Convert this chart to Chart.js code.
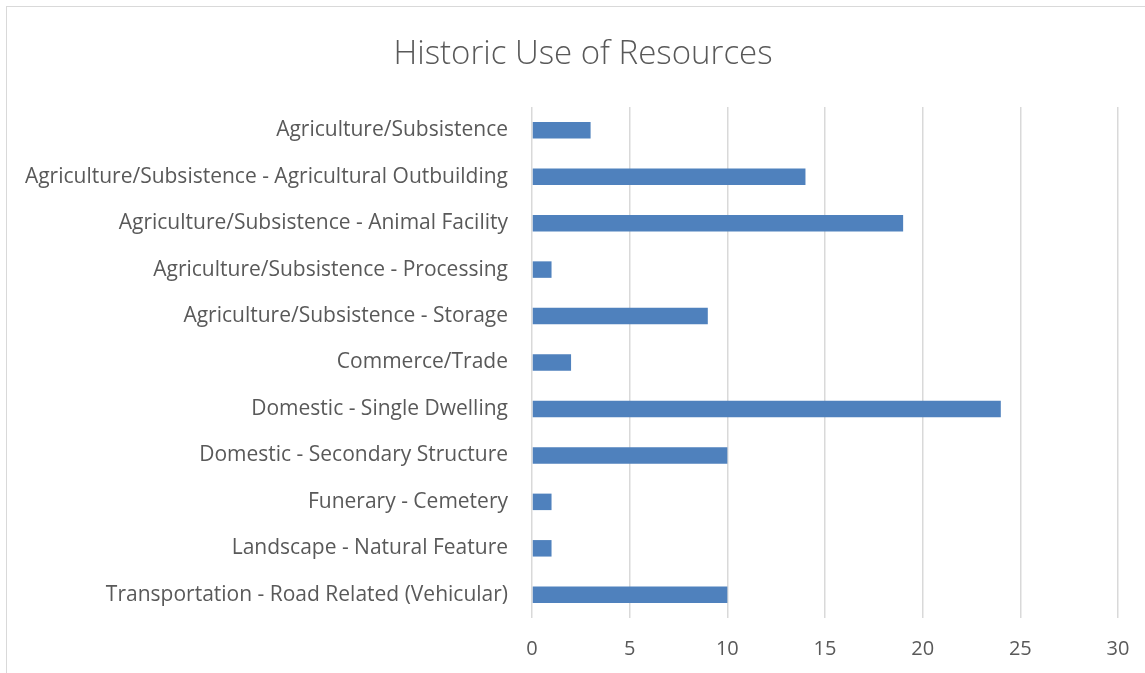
<!DOCTYPE html>
<html>
<head>
<meta charset="utf-8">
<script src="https://cdn.jsdelivr.net/npm/chart.js@4"></script>
<style>
  html, body { margin: 0; padding: 0; background: #fff; overflow: hidden; }
  #wrap { position: relative; width: 1145px; height: 673px; }
  #frame { position: absolute; left: 6px; top: 6px; width: 1160px; height: 700px;
           border: 1.5px solid #d9d9d9; box-sizing: border-box; }
  canvas { position: absolute; left: 0; top: 0; }
</style>
</head>
<body>
<div id="wrap">
  <div id="frame"></div>
  <canvas id="useChart" width="1145" height="673"></canvas>
</div>
<script>
// 类别与数值
const categories = [
  'Agriculture/Subsistence',
  'Agriculture/Subsistence - Agricultural Outbuilding',
  'Agriculture/Subsistence - Animal Facility',
  'Agriculture/Subsistence - Processing',
  'Agriculture/Subsistence - Storage',
  'Commerce/Trade',
  'Domestic - Single Dwelling',
  'Domestic - Secondary Structure',
  'Funerary - Cemetery',
  'Landscape - Natural Feature',
  'Transportation - Road Related (Vehicular)'
];
const resourceCounts = [3, 14, 19, 1, 9, 2, 24, 10, 1, 1, 10];
const tickValues = [0, 5, 10, 15, 20, 25, 30];

const textColor = '#595959';
const fontFamily = '"Open Sans", Lato, sans-serif';

const ctx = document.getElementById('useChart').getContext('2d');
new Chart(ctx, {
  type: 'bar',
  data: {
    labels: categories,
    datasets: [{
      data: resourceCounts,
      backgroundColor: '#4f81bd',
      borderWidth: 0,
      barPercentage: 0.355,
      categoryPercentage: 1
    }]
  },
  options: {
    indexAxis: 'y',
    responsive: false,
    animation: false,
    layout: { padding: { left: 48, right: 27, top: 0, bottom: 0 } },
    plugins: {
      legend: { display: false },
      tooltip: { enabled: false },
      title: {
        display: true,
        text: 'Historic Use of Resources',
        color: textColor,
        font: { family: fontFamily, size: 33, weight: '300' },
        padding: { top: 35, bottom: 32.4 }
      }
    },
    scales: {
      x: {
        min: tickValues[0],
        max: tickValues[tickValues.length - 1],
        afterBuildTicks: scale => { scale.ticks = tickValues.map(v => ({ value: v })); },
        afterFit: scale => {
          scale.height = 55;
          // 去掉刻度标签带来的额外左右留白
          scale.paddingLeft = 0;
          scale.paddingRight = 0;
        },
        grid: { color: '#d9d9d9', lineWidth: 1.5, drawTicks: false },
        border: { display: false },
        ticks: { color: textColor, font: { family: fontFamily, size: 20 }, padding: 19 }
      },
      y: {
        afterFit: scale => {
          scale.width = 484;
          // 长标签超出轴宽时不裁剪
          scale._computeLabelArea = () => undefined;
        },
        grid: { display: false, drawTicks: false },
        border: { display: false },
        ticks: { color: textColor, font: { family: fontFamily, size: 21 }, padding: 24, autoSkip: false }
      }
    }
  }
});
</script>
</body>
</html>
